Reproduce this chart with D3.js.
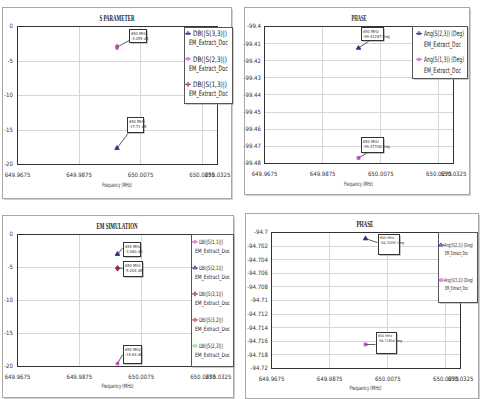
<!DOCTYPE html>
<html><head><meta charset="utf-8">
<script src="https://cdn.jsdelivr.net/npm/d3@7"></script>
<style>body{margin:0;background:#fff}svg{display:block}</style>
</head><body><svg id="c" width="480" height="399"></svg>
<script>
// ---------- DATA ----------
const freqTicks = [649.9675, 649.9875, 650.0075, 650.0275, 650.0325];
const freqDomain = [649.9675, 650.0325];
const markerFreq = 650;
const docName = "EM_Extract_Doc";
const xAxisTitle = "Frequency (MHz)";

// Panel 1: S PARAMETER
const p1Title = "S PARAMETER";
const p1Series = ["DB(|S(3,3)|)", "DB(|S(2,3)|)", "DB(|S(1,3)|)"];
const p1Values = [-17.71, -3.055, -3.055];
const p1MarkerText = ["-17.71 dB", null, "-3.055 dB"];
const p1YTicks = [0, -5, -10, -15, -20];

// Panel 2: PHASE
const p2Title = "PHASE";
const p2Series = ["Ang(S(2,3)) (Deg)", "Ang(S(1,3)) (Deg)"];
const p2Values = [-99.41287, -99.47708];
const p2MarkerText = ["-99.41287 Deg", "-99.47708 Deg"];
const p2YTicks = [-99.4, -99.41, -99.42, -99.43, -99.44, -99.45, -99.46, -99.47, -99.48];

// Panel 3: EM SIMULATION
const p3Title = "EM SIMULATION";
const p3Series = ["DB(|S(1,1)|)", "DB(|S(2,1)|)", "DB(|S(3,1)|)", "DB(|S(3,2)|)", "DB(|S(2,3)|)"];
const p3Values = [-19.64, -3.06, -5.204, -5.204, -3.06];
const p3MarkerText = ["-19.64 dB", "-3.060 dB", "-5.204 dB", null, null];
const p3YTicks = [0, -5, -10, -15, -20];

// Panel 4: PHASE
const p4Title = "PHASE";
const p4Series = ["Ang(S(2,1)) (Deg)", "Ang(S(3,1)) (Deg)"];
const p4Values = [-94.70097, -94.71654];
const p4MarkerText = ["-94.70097 Deg", "-94.71654 Deg"];
const p4YTicks = [-94.7, -94.702, -94.704, -94.706, -94.708, -94.71, -94.712, -94.714, -94.716, -94.718, -94.72];

// ---------- STYLE ----------
const C = {blue:"#2e2e9a", pink:"#e052e0", maroon:"#8e3040", red:"#d84a5a", green:"#8be08b"};
const NARROW = "'Liberation Sans Narrow','DejaVu Sans Condensed','Arial Narrow',sans-serif";
const SERIF = "'Liberation Serif','DejaVu Serif',serif";

const svg = d3.select("#c");

function symPath(type, size) {
  const t = {tri: d3.symbolTriangle, sq: d3.symbolSquare, diam: d3.symbolDiamond, circ: d3.symbolCircle, cross: d3.symbolCross}[type];
  return d3.symbol().type(t).size(size)();
}

function drawPanel(cfg) {
  const g = svg.append("g");
  const f = cfg.frame, p = cfg.plot;
  g.append("rect").attr("x", f.x + 0.5).attr("y", f.y + 0.5).attr("width", f.w).attr("height", f.h)
    .attr("fill", "#fff").attr("stroke", "#a8a8a8");
  g.append("path").attr("d", `M${f.x + f.w + 1.5},${f.y + 2}V${f.y + f.h + 1.5}H${f.x + 2}`)
    .attr("fill", "none").attr("stroke", "#d0d0d0");

  const x = d3.scaleLinear().domain(freqDomain).range([p.l, p.r]);
  const y = d3.scaleLinear().domain(cfg.yDomain).range([p.b, p.t]);

  // grid
  g.append("g").selectAll("line").data(freqTicks).join("line")
    .attr("x1", d => Math.round(x(d)) + 0.5).attr("x2", d => Math.round(x(d)) + 0.5)
    .attr("y1", p.t).attr("y2", p.b).attr("stroke", "#d6d6d6");
  g.append("g").selectAll("line").data(cfg.yTicks).join("line")
    .attr("y1", d => Math.round(y(d)) + 0.5).attr("y2", d => Math.round(y(d)) + 0.5)
    .attr("x1", p.l).attr("x2", p.r).attr("stroke", "#d6d6d6");
  g.append("rect").attr("x", p.l + 0.5).attr("y", p.t + 0.5).attr("width", p.r - p.l).attr("height", p.b - p.t)
    .attr("fill", "none").attr("stroke", "#333");

  // axes
  const ax = g.append("g").attr("transform", `translate(0,${p.b})`)
    .call(d3.axisBottom(x).tickValues(freqTicks).tickSize(0).tickPadding(cfg.xPad).tickFormat(d => String(d)));
  ax.select(".domain").remove();
  ax.selectAll("text").attr("font-family", NARROW).attr("font-size", cfg.tickFs).attr("fill", "#333");
  const ay = g.append("g").attr("transform", `translate(${p.l},0)`)
    .call(d3.axisLeft(y).tickValues(cfg.yTicks).tickSize(0).tickPadding(cfg.yPad).tickFormat(d => String(d)));
  ay.select(".domain").remove();
  ay.selectAll("text").attr("font-family", NARROW).attr("font-size", cfg.tickFs).attr("fill", "#333");

  // title & axis label
  g.append("text").attr("x", cfg.title.x).attr("y", cfg.title.y).attr("text-anchor", "middle")
    .attr("font-family", SERIF).attr("font-weight", "bold").attr("font-size", cfg.title.fs)
    .attr("textLength", cfg.title.w).attr("lengthAdjust", "spacingAndGlyphs").attr("fill", "#222")
    .text(cfg.titleText);
  g.append("text").attr("x", (p.l + p.r) / 2 + cfg.xlab.dx).attr("y", cfg.xlab.y).attr("text-anchor", "middle")
    .attr("font-family", NARROW).attr("font-size", cfg.xlab.fs).attr("fill", "#333")
    .attr("textLength", cfg.xlab.w).attr("lengthAdjust", "spacingAndGlyphs")
    .text(xAxisTitle);

  // points (first series on top)
  const idx = d3.range(cfg.series.length).reverse();
  g.append("g").selectAll("path").data(idx).join("path")
    .attr("transform", i => `translate(${x(markerFreq)},${y(cfg.values[i])})`)
    .attr("d", i => symPath(cfg.sym[i], 9))
    .attr("fill", i => cfg.colors[i]).attr("stroke", i => cfg.colors[i]).attr("stroke-width", 0.8);

  // marker labels
  cfg.labels.forEach(L => {
    const mx = x(markerFreq), my = y(cfg.values[L.i]);
    g.append("line").attr("x1", mx).attr("y1", my).attr("x2", mx + L.ax).attr("y2", my + L.ay)
      .attr("stroke", "#333").attr("stroke-width", 0.8);
    const bx = Math.round(mx + L.dx) + 0.5, by = Math.round(my + L.dy) + 0.5;
    g.append("rect").attr("x", bx + 1).attr("y", by + 1).attr("width", L.w).attr("height", L.h)
      .attr("fill", "#888");
    g.append("rect").attr("x", bx).attr("y", by).attr("width", L.w).attr("height", L.h)
      .attr("fill", "#fff").attr("stroke", "#333").attr("stroke-width", 1);
    const tx = g.append("text").attr("font-family", NARROW).attr("font-size", L.fs).attr("fill", "#333");
    tx.append("tspan").attr("x", bx + 1.5).attr("y", by + L.fs + 1).text(`${markerFreq} MHz`);
    tx.append("tspan").attr("x", bx + 1.5).attr("y", by + 2 * L.fs + 2).text(cfg.markerText[L.i]);
  });

  // legend
  const lg = cfg.legend;
  g.append("rect").attr("x", lg.x + 1.5).attr("y", lg.y + 1.5).attr("width", lg.w).attr("height", lg.h).attr("fill", "#999");
  g.append("rect").attr("x", lg.x + 0.5).attr("y", lg.y + 0.5).attr("width", lg.w).attr("height", lg.h)
    .attr("fill", "#fff").attr("stroke", "#555");
  cfg.series.forEach((s, i) => {
    const by = lg.y + lg.first + i * lg.step;
    const sy = by - lg.fs * 0.35;
    g.append("line").attr("x1", lg.symX - 3).attr("x2", lg.symX + 3).attr("y1", sy).attr("y2", sy)
      .attr("stroke", cfg.colors[i]).attr("stroke-width", 0.9);
    g.append("path").attr("transform", `translate(${lg.symX},${sy})`).attr("d", symPath(cfg.sym[i], 6))
      .attr("fill", "none").attr("stroke", cfg.colors[i]).attr("stroke-width", 0.8);
    g.append("text").attr("x", lg.tx).attr("y", by).attr("font-family", NARROW).attr("font-size", lg.fs)
      .attr("fill", "#222").attr("textLength", lg.w1).attr("lengthAdjust", "spacingAndGlyphs").text(s);
    g.append("text").attr("x", lg.tx2).attr("y", by + lg.gap).attr("font-family", NARROW).attr("font-size", lg.fs)
      .attr("fill", "#222").attr("textLength", lg.w2).attr("lengthAdjust", "spacingAndGlyphs").text(docName);
  });
}

drawPanel({
  frame: {x: 2, y: 7, w: 229, h: 191},
  plot: {l: 17, t: 26, r: 217, b: 164},
  yDomain: [-20, 0], yTicks: p1YTicks, xPad: 9, yPad: 4, tickFs: 6,
  title: {x: 117, y: 21, w: 35, fs: 8}, titleText: p1Title,
  xlab: {y: 187, w: 30, fs: 6, dx: 0},
  series: p1Series, values: p1Values, markerText: p1MarkerText,
  colors: [C.blue, C.pink, C.maroon], sym: ["tri", "sq", "diam"],
  labels: [
    {i: 2, dx: 12, dy: -18, w: 17, h: 13, ax: 13, ay: -7, fs: 4},
    {i: 0, dx: 10, dy: -31, w: 16, h: 15, ax: 12, ay: -16, fs: 4}
  ],
  legend: {x: 184, y: 27, w: 48, h: 76, first: 9, step: 25.5, gap: 9, fs: 7.5, symX: 188, tx: 193, tx2: 189, w1: 34, w2: 39}
});

drawPanel({
  frame: {x: 244, y: 7, w: 225, h: 187},
  plot: {l: 264, t: 26, r: 453, b: 163},
  yDomain: [-99.48, -99.4], yTicks: p2YTicks, xPad: 9, yPad: 3, tickFs: 6,
  title: {x: 359, y: 21, w: 15, fs: 8}, titleText: p2Title,
  xlab: {y: 186, w: 29, fs: 6, dx: 0},
  series: p2Series, values: p2Values, markerText: p2MarkerText,
  colors: [C.blue, C.pink], sym: ["tri", "sq"],
  labels: [
    {i: 0, dx: 2, dy: -21, w: 22, h: 13, ax: 12, ay: -8, fs: 4},
    {i: 1, dx: 2, dy: -21, w: 22, h: 15, ax: 10, ay: -6, fs: 4}
  ],
  legend: {x: 412, y: 26, w: 55, h: 52, first: 10, step: 26, gap: 11, fs: 7.5, symX: 419, tx: 424, tx2: 424, w1: 40, w2: 37}
});

drawPanel({
  frame: {x: 2, y: 215, w: 231, h: 182},
  plot: {l: 17, t: 234, r: 218, b: 366},
  yDomain: [-20, 0], yTicks: p3YTicks, xPad: 9, yPad: 4, tickFs: 6,
  title: {x: 117, y: 229, w: 41, fs: 8}, titleText: p3Title,
  xlab: {y: 388, w: 32, fs: 6, dx: 0},
  series: p3Series, values: p3Values, markerText: p3MarkerText,
  colors: [C.pink, C.blue, C.maroon, C.red, C.green], sym: ["circ", "tri", "diam", "cross", "sq"],
  labels: [
    {i: 1, dx: 5, dy: -12, w: 17, h: 14, ax: 5, ay: -6, fs: 4},
    {i: 2, dx: 5, dy: -7, w: 19, h: 15, ax: 5, ay: 0, fs: 4},
    {i: 0, dx: 5, dy: -19, w: 18, h: 18, ax: 5, ay: -9, fs: 4}
  ],
  legend: {x: 191, y: 234, w: 42, h: 132, first: 10, step: 26, gap: 9, fs: 6, symX: 195, tx: 199, tx2: 195, w1: 24, w2: 35}
});

drawPanel({
  frame: {x: 245, y: 213, w: 233, h: 185},
  plot: {l: 271, t: 232, r: 460, b: 368},
  yDomain: [-94.72, -94.7], yTicks: p4YTicks, xPad: 9, yPad: 3, tickFs: 6,
  title: {x: 365, y: 227, w: 17, fs: 8}, titleText: p4Title,
  xlab: {y: 390, w: 32, fs: 6, dx: 0},
  series: p4Series, values: p4Values, markerText: p4MarkerText,
  colors: [C.blue, C.pink], sym: ["tri", "sq"],
  labels: [
    {i: 0, dx: 12, dy: -5, w: 21, h: 20, ax: 12, ay: 4, fs: 3.6},
    {i: 1, dx: 10, dy: -12, w: 20, h: 21, ax: 10, ay: 0, fs: 3.6}
  ],
  legend: {x: 438, y: 232, w: 39, h: 70, first: 15, step: 35, gap: 8, fs: 5.5, symX: 441, tx: 444, tx2: 445, w1: 29, w2: 23}
});
</script></body></html>
